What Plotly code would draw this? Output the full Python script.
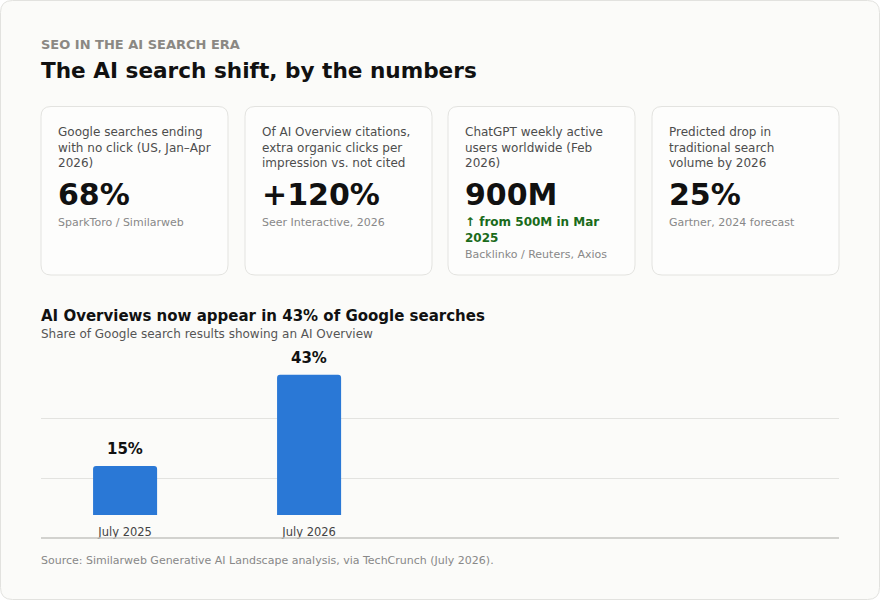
############################################################################

# Required Libraries
import plotly.graph_objects as go

############################################################################

# Data
eyebrow        = 'SEO IN THE AI SEARCH ERA'
headline       = 'The AI search shift, by the numbers'
card_labels    = ['Google searches ending<br>with no click (US, Jan–Apr<br>2026)',
                  'Of AI Overview citations,<br>extra organic clicks per<br>impression vs. not cited',
                  'ChatGPT weekly active<br>users worldwide (Feb<br>2026)',
                  'Predicted drop in<br>traditional search<br>volume by 2026']
card_values    = ['68%', '+120%', '900M', '25%']
card_notes     = ['', '', '↑ from 500M in Mar<br>2025', '']
card_sources   = ['SparkToro / Similarweb', 'Seer Interactive, 2026', 'Backlinko / Reuters, Axios', 'Gartner, 2024 forecast']

chart_title    = 'AI Overviews now appear in 43% of Google searches'
chart_subtitle = 'Share of Google search results showing an AI Overview'
periods        = ['July 2025', 'July 2026']
share          = [15, 43]
grid_vals      = [11.3, 29.7]
footer         = 'Source: Similarweb Generative AI Landscape analysis, via TechCrunch (July 2026).'

############################################################################

W, H = 880, 600
FONT = 'DejaVu Sans'

# Function: pixel -> paper
def px(x):
    return x / W

def py(y):
    return 1 - y / H

# Function: Rounded Rectangle Path (paper coords)
def rounded_rect(x0, y0, x1, y1, r):
    rx, ry = r / W, r / H
    a, b, c, d = px(x0), py(y0), px(x1), py(y1)
    return (f'M{a+rx},{b} L{c-rx},{b} Q{c},{b} {c},{b-ry} '
            f'L{c},{d+ry} Q{c},{d} {c-rx},{d} '
            f'L{a+rx},{d} Q{a},{d} {a},{d+ry} '
            f'L{a},{b-ry} Q{a},{b} {a+rx},{b} Z')

# Function: left aligned text (annotation box has ~2px padding)
def text(x, y, s, size, color, bold = False, yanchor = 'middle'):
    return dict(x = px(x - 2), y = py(y), xref = 'paper', yref = 'paper', text = s,
                showarrow = False, xanchor = 'left', yanchor = yanchor, align = 'left',
                font = dict(family = FONT, size = size, color = color, weight = 'bold' if bold else 'normal'))

############################################################################

shapes      = []
annotations = []

# Page card
shapes.append(dict(type = 'path', path = rounded_rect(0.5, 0.5, 879.5, 599.5, 12), xref = 'paper', yref = 'paper',
                   fillcolor = '#fbfbf9', line = dict(color = '#e2e2df', width = 1), layer = 'below'))

annotations.append(text(41, 44, eyebrow, 13, '#8b8883', bold = True))
annotations.append(text(41, 70, headline, 21.6, '#111111', bold = True))

# KPI cards
card_x = [41, 245, 448, 652]
card_w = 187
for i in range(0, len(card_values)):
    x0 = card_x[i]
    shapes.append(dict(type = 'path', path = rounded_rect(x0, 106.5, x0 + card_w, 275, 10), xref = 'paper', yref = 'paper',
                       fillcolor = '#fdfdfc', line = dict(color = '#e3e3e0', width = 1), layer = 'below'))
    annotations.append(text(x0 + 17, 123, card_labels[i], 12, '#4d4d4d', yanchor = 'top'))
    annotations.append(text(x0 + 17, 195, card_values[i], 30, '#111111', bold = True))
    if card_notes[i]:
        annotations.append(text(x0 + 17, 230, card_notes[i], 12, '#1a6b1a', bold = True))
        annotations.append(text(x0 + 17, 254, card_sources[i], 11, '#888888'))
    else:
        annotations.append(text(x0 + 17, 222, card_sources[i], 11, '#888888'))

# Chart heading and footer
annotations.append(text(41, 316, chart_title, 15, '#111111', bold = True))
annotations.append(text(41, 334, chart_subtitle, 12, '#555555'))
annotations.append(text(41, 560, footer, 11, '#888888'))

# Baseline under labels
shapes.append(dict(type = 'line', xref = 'paper', yref = 'paper', x0 = px(41), x1 = px(839), y0 = py(538), y1 = py(538),
                   line = dict(color = '#c4c4c1', width = 1.5)))

# Value labels above bars
for p, v in zip(periods, share):
    annotations.append(dict(x = p, y = v, xref = 'x', yref = 'y', text = f'{v}%', showarrow = False,
                            yanchor = 'bottom', yshift = 6,
                            font = dict(family = FONT, size = 15, color = '#111111', weight = 'bold')))

############################################################################

bar = go.Bar(x            = periods,
             y            = share,
             width        = 0.348,
             marker       = dict(color = '#2a78d6', cornerradius = 3, line = dict(width = 0)),
             hoverinfo    = 'x+y',
             name         = ''
             )

layout = go.Layout(width         = W,
                   height        = H,
                   showlegend    = False,
                   margin        = dict(l = 0, r = 0, t = 0, b = 0),
                   paper_bgcolor = '#ffffff',
                   plot_bgcolor  = 'rgba(0,0,0,0)',
                   font          = dict(family = FONT),
                   xaxis         = dict(domain = [px(41), px(839)],
                                        type = 'category',
                                        range = [-0.457, 3.88],
                                        showgrid = False,
                                        showline = False,
                                        ticks = '',
                                        ticklabelstandoff = 8,
                                        tickfont = dict(family = FONT, size = 11.5, color = '#444444')),
                   yaxis         = dict(domain = [py(515), py(350)],
                                        range = [0, 50.6],
                                        tickvals = grid_vals,
                                        showticklabels = False,
                                        showgrid = True,
                                        gridcolor = '#e3e3e0',
                                        gridwidth = 1,
                                        zeroline = False),
                   shapes        = shapes,
                   annotations   = annotations
                   )

fig = go.Figure(data = [bar], layout = layout)
fig.write_html('out.html', config = dict(displayModeBar = False),
               post_script = "document.body.style.margin = '0';")
